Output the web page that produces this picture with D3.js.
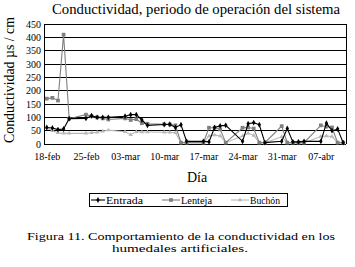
<!DOCTYPE html>
<html>
<head>
<meta charset="utf-8">
<script src="https://cdn.jsdelivr.net/npm/d3@7"></script>
<style>
  body { margin: 0; background: #fff; }
  svg text { font-family: "Liberation Serif", "DejaVu Serif", serif; fill: #000; }
</style>
</head>
<body>
<div id="chart"></div>
<script>
// dias de medicion, contados desde el 18-feb-2008
const dias = [0,1,2,3,4, 7,8,9,10,11, 14,15,16,17,18, 21,22,23,24,25,
  28,29,30,31,32, 35,36,37,38,39, 42,43,44,45,46, 49,50,51,52,53];

const entrada = [62,60,54,56,95, 96,106,100,100,100, 104,110,110,90,70, 73,74,62,72,10,
  10,8,62,68,70, 10,76,80,72,5, 10,58,8,8,10, 10,78,50,56,5];
const lenteja = [170,173,163,410,95, 110,104,100,96,92, 96,90,93,78,76, 74,73,70,5,5,
  5,61,61,55,5, 61,62,58,5,5, 67,5,5,5,5, 70,65,62,5,5];
const buchon = [60,50,42,40,40, 40,42,44,48,52, 46,35,46,45,45, 44,44,42,5,5,
  5,30,34,30,5, 30,40,32,5,5, 27,5,5,5,5, 28,30,28,5,5];

const yTicks = [0,50,100,150,200,250,300,350,400,450];
const xTickDays = [0,7,14,21,28,35,42,49];
const xTickLabels = ["18-feb","25-feb","03-mar","10-mar","17-mar","24-mar","31-mar","07-abr"];

const W = 355, H = 267;
const plot = { left: 44, right: 346, top: 24, bottom: 144 };
const inicio = new Date(2008, 1, 18);
const fecha = d => d3.timeDay.offset(inicio, d);

const svg = d3.select("#chart").append("svg")
  .attr("width", W).attr("height", H);

const x = d3.scaleTime()
  .domain([d3.timeHour.offset(inicio, -12), d3.timeHour.offset(fecha(53), 12)])
  .range([plot.left, plot.right]);
const y = d3.scaleLinear().domain([0, 450]).range([plot.bottom, plot.top]);

// titulo
svg.append("text")
  .attr("x", 196).attr("y", 14)
  .attr("text-anchor", "middle")
  .attr("textLength", 288).attr("lengthAdjust", "spacingAndGlyphs")
  .style("font-size", "14px")
  .text("Conductividad, periodo de operación del sistema");

// rejilla horizontal
svg.append("g").selectAll("line").data(yTicks).join("line")
  .attr("x1", plot.left).attr("x2", plot.right)
  .attr("y1", d => y(d)).attr("y2", d => y(d))
  .attr("stroke", "#000").attr("stroke-width", 1)
  .attr("shape-rendering", "crispEdges");

// bordes verticales
[plot.left, plot.right].forEach(px => {
  svg.append("line")
    .attr("x1", px).attr("x2", px).attr("y1", plot.top).attr("y2", plot.bottom)
    .attr("stroke", "#000").attr("stroke-width", 1)
    .attr("shape-rendering", "crispEdges");
});

// eje y
const yAxis = svg.append("g")
  .attr("transform", "translate(" + plot.left + ",0)")
  .call(d3.axisLeft(y).tickValues(yTicks).tickSize(0).tickPadding(3));
yAxis.select(".domain").remove();
yAxis.selectAll("text").style("font-size", "10px").style("font-family", "Liberation Serif");

// eje x
const xAxis = svg.append("g")
  .attr("transform", "translate(0," + plot.bottom + ")")
  .call(d3.axisBottom(x).tickValues(xTickDays.map(fecha)).tickSize(0).tickPadding(9)
    .tickFormat((d, i) => xTickLabels[i]));
xAxis.select(".domain").remove();
xAxis.selectAll("text").style("font-size", "10px").style("font-family", "Liberation Serif");

// titulos de ejes
svg.append("text")
  .attr("text-anchor", "middle")
  .attr("transform", "translate(14," + 80 + ")rotate(-90)")
  .attr("textLength", 126).attr("lengthAdjust", "spacingAndGlyphs")
  .style("font-size", "15px")
  .text("Conductividad  µs / cm");

svg.append("text")
  .attr("x", 197).attr("y", 182)
  .attr("text-anchor", "middle")
  .style("font-size", "14px")
  .text("Día");

// series
const series = [
  { name: "Entrada", values: entrada, color: "#000000", marker: "diamond", size: 10 },
  { name: "Lenteja", values: lenteja, color: "#808080", marker: "square", size: 14 },
  { name: "Buchón", values: buchon, color: "#b8b8b8", marker: "triangle", size: 8 }
];
const symbols = { diamond: d3.symbolDiamond, square: d3.symbolSquare, triangle: d3.symbolTriangle };

const line = d3.line().x(d => x(fecha(d[0]))).y(d => y(d[1]));

series.slice().reverse().forEach(s => {
  const pts = dias.map((d, i) => [d, s.values[i]]);
  svg.append("path")
    .datum(pts)
    .attr("fill", "none")
    .attr("stroke", s.color)
    .attr("stroke-width", 1.1)
    .attr("d", line);
  svg.append("g").selectAll("path").data(pts).join("path")
    .attr("transform", d => "translate(" + x(fecha(d[0])) + "," + y(d[1]) + ")")
    .attr("d", d3.symbol().type(symbols[s.marker]).size(s.size))
    .attr("fill", s.color);
});

// leyenda
const leg = svg.append("g");
leg.append("rect")
  .attr("x", 89.5).attr("y", 193.5).attr("width", 198).attr("height", 13)
  .attr("fill", "#fff").attr("stroke", "#000").attr("stroke-width", 1);
const legPos = [{ x1: 91, x2: 105, tx: 106, tw: 37 }, { x1: 162, x2: 180, tx: 181, tw: 31 }, { x1: 231, x2: 249, tx: 250, tw: 30 }];
series.forEach((s, i) => {
  const p = legPos[i];
  leg.append("line")
    .attr("x1", p.x1).attr("x2", p.x2).attr("y1", 200).attr("y2", 200)
    .attr("stroke", s.color).attr("stroke-width", 1.1);
  leg.append("path")
    .attr("transform", "translate(" + (p.x1 + p.x2) / 2 + ",200)")
    .attr("d", d3.symbol().type(symbols[s.marker]).size(s.size))
    .attr("fill", s.color);
  leg.append("text")
    .attr("x", p.tx).attr("y", 203.5)
    .attr("textLength", p.tw).attr("lengthAdjust", "spacingAndGlyphs")
    .style("font-size", "10.5px")
    .text(s.name);
});

// pie de figura
svg.append("text")
  .attr("x", 181).attr("y", 240)
  .attr("text-anchor", "middle")
  .attr("textLength", 308).attr("lengthAdjust", "spacingAndGlyphs")
  .style("font-size", "11px")
  .text("Figura 11. Comportamiento de la conductividad en los");
svg.append("text")
  .attr("x", 180).attr("y", 252)
  .attr("text-anchor", "middle")
  .attr("textLength", 136).attr("lengthAdjust", "spacingAndGlyphs")
  .style("font-size", "11px")
  .text("humedales artificiales.");
</script>
</body>
</html>
